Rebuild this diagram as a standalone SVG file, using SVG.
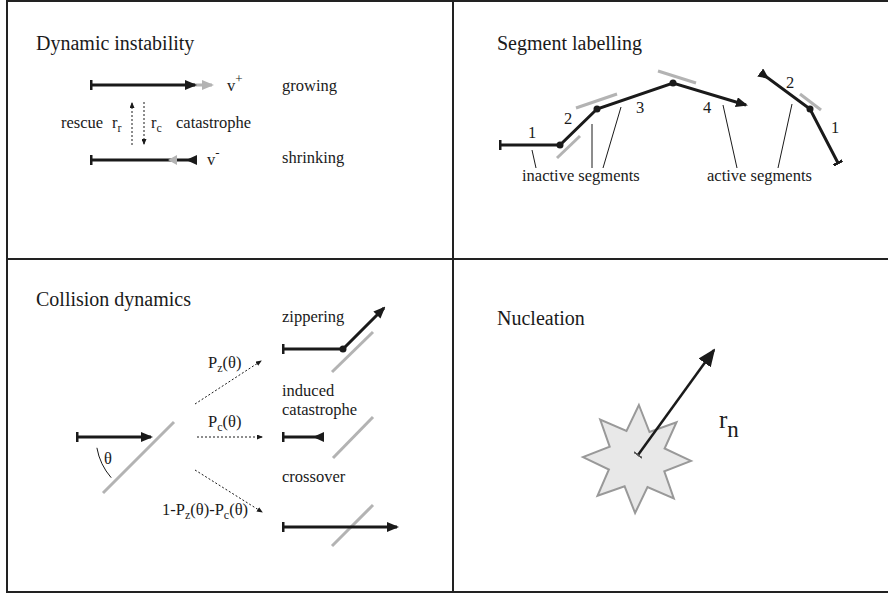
<svg xmlns="http://www.w3.org/2000/svg" width="888" height="597" viewBox="0 0 888 597">
<style>
text{font-family:"Liberation Serif","Times New Roman",serif;fill:#1a1a1a}
.t{font-size:20px}
.l{font-size:16.5px}
.s{font-size:12px}
.blk{stroke:#1a1a1a;stroke-width:3;fill:none}
.gry{stroke:#b3b3b3;stroke-width:3;fill:none}
.dot{stroke:#1a1a1a;stroke-width:1;stroke-dasharray:2,2;fill:none}
.thin{stroke:#1a1a1a;stroke-width:1;fill:none}
.frame{stroke:#222;stroke-width:2;fill:none}
</style>
<defs>
<marker id="ah" viewBox="0 0 12 10" refX="10" refY="5" markerWidth="12" markerHeight="10" markerUnits="userSpaceOnUse" orient="auto"><path d="M0,0L12,5L0,10z" fill="#1a1a1a"/></marker>
<marker id="ahg" viewBox="0 0 12 10" refX="10" refY="5" markerWidth="12" markerHeight="10" markerUnits="userSpaceOnUse" orient="auto"><path d="M0,0L12,5L0,10z" fill="#b3b3b3"/></marker>
<marker id="rev" viewBox="0 0 11 10" refX="10" refY="5" markerWidth="11" markerHeight="10" markerUnits="userSpaceOnUse" orient="auto-start-reverse"><path d="M11,0L11,10L0,5z" fill="#1a1a1a"/></marker>
<marker id="tee" viewBox="0 0 3 10" refX="1.5" refY="5" markerWidth="3" markerHeight="10" markerUnits="userSpaceOnUse" orient="auto"><rect x="0" y="0" width="3" height="10" fill="#1a1a1a"/></marker>
<marker id="sm" viewBox="0 0 6 5" refX="5" refY="2.5" markerWidth="6" markerHeight="5" markerUnits="userSpaceOnUse" orient="auto"><path d="M0,0L6,2.5L0,5z" fill="#1a1a1a"/></marker>
<marker id="ahL" viewBox="0 0 18 15" refX="16" refY="7.5" markerWidth="18" markerHeight="15" markerUnits="userSpaceOnUse" orient="auto"><path d="M0,0L18,7.5L0,15z" fill="#1a1a1a"/></marker>
<marker id="teeS" viewBox="0 0 2 10" refX="1" refY="5" markerWidth="2" markerHeight="10" markerUnits="userSpaceOnUse" orient="auto"><rect x="0" y="0" width="2" height="10" fill="#555"/></marker>
</defs>

<g id="frame">
<rect class="frame" x="7" y="1" width="890" height="591"/>
<line class="frame" x1="7" y1="259" x2="888" y2="259"/>
<line class="frame" x1="453" y1="1" x2="453" y2="592"/>
</g>

<g id="panel-dynamic-instability">
<text class="t" x="36" y="50">Dynamic instability</text>
<line class="gry" x1="190" y1="85" x2="212" y2="85" marker-end="url(#ahg)"/>
<line class="blk" x1="91" y1="85" x2="195" y2="85" marker-start="url(#tee)" marker-end="url(#ah)"/>
<text class="l" x="227" y="91">v<tspan font-size="13" dy="-8">+</tspan></text>
<text class="l" x="282" y="91">growing</text>
<text class="l" x="61" y="128">rescue</text>
<text class="l" x="112" y="128">r<tspan class="s" dy="4">r</tspan></text>
<text class="l" x="151" y="128">r<tspan class="s" dy="4">c</tspan></text>
<text class="l" x="176" y="128">catastrophe</text>
<line class="blk" x1="91" y1="160" x2="196" y2="160" marker-start="url(#tee)" marker-end="url(#rev)"/>
<path d="M177,155L177,165L168,160z" fill="#b3b3b3"/>
<text class="l" x="207" y="165">v<tspan font-size="13" dy="-8">-</tspan></text>
<text class="l" x="282" y="163">shrinking</text>
</g>

<g id="panel-segment-labelling">
<text class="t" x="497" y="50">Segment labelling</text>
<line class="gry" x1="557" y1="158" x2="580" y2="136"/>
<line class="gry" x1="576" y1="108" x2="617" y2="94"/>
<line class="gry" x1="658" y1="71" x2="696" y2="83"/>
<line class="gry" x1="800" y1="94" x2="821" y2="110"/>
<polyline class="blk" points="500,145 560,145 597,109 673,83 746,105" marker-start="url(#tee)" marker-end="url(#ah)"/>
<circle cx="560" cy="145" r="3.5" fill="#1a1a1a"/>
<circle cx="597" cy="109" r="3.5" fill="#1a1a1a"/>
<circle cx="673" cy="83" r="3.5" fill="#1a1a1a"/>
<polyline class="blk" points="761,73 810,109 838,163" marker-start="url(#rev)" marker-end="url(#tee)"/>
<circle cx="810" cy="109" r="3.5" fill="#1a1a1a"/>
<text class="l" x="528" y="138">1</text>
<text class="l" x="564" y="124">2</text>
<text class="l" x="636" y="113">3</text>
<text class="l" x="703" y="113">4</text>
<text class="l" x="786" y="88">2</text>
<text class="l" x="831" y="133">1</text>
<line class="thin" x1="532" y1="150" x2="536" y2="168"/>
<line class="thin" x1="592" y1="124" x2="592" y2="168"/>
<line class="thin" x1="621" y1="107" x2="603" y2="168"/>
<line class="thin" x1="723" y1="105" x2="737" y2="168"/>
<line class="thin" x1="792" y1="104" x2="778" y2="168"/>
<text class="l" x="522" y="181">inactive segments</text>
<text class="l" x="707" y="181">active segments</text>
</g>

<g id="panel-collision-dynamics">
<text class="t" x="36" y="306">Collision dynamics</text>
<line class="gry" x1="103" y1="493" x2="174" y2="422"/>
<line class="blk" x1="77" y1="437" x2="151" y2="437" marker-start="url(#tee)" marker-end="url(#ah)"/>
<path class="thin" d="M96.9,447.8A62,62 0 0 0 111.2,477.7"/>
<text class="l" x="104" y="464">θ</text>
<text class="l" x="208" y="368">P<tspan class="s" dy="4">z</tspan><tspan dy="-4">(θ)</tspan></text>
<text class="l" x="208" y="427">P<tspan class="s" dy="4">c</tspan><tspan dy="-4">(θ)</tspan></text>
<text class="l" x="162" y="515">1-P<tspan class="s" dy="4">z</tspan><tspan dy="-4">(θ)-P</tspan><tspan class="s" dy="4">c</tspan><tspan dy="-4">(θ)</tspan></text>
<text class="l" x="282" y="322">zippering</text>
<line class="gry" x1="332" y1="372" x2="373" y2="332"/>
<polyline class="blk" points="283,349 343,349 384,308" marker-start="url(#tee)" marker-end="url(#ah)"/>
<circle cx="343" cy="349" r="3.5" fill="#1a1a1a"/>
<text class="l" x="282" y="396">induced</text>
<text class="l" x="282" y="415">catastrophe</text>
<line class="gry" x1="333" y1="458" x2="373" y2="417"/>
<line class="blk" x1="283" y1="437" x2="323" y2="437" marker-start="url(#tee)" marker-end="url(#rev)"/>
<text class="l" x="282" y="482">crossover</text>
<line class="gry" x1="332" y1="546" x2="373" y2="505"/>
<line class="blk" x1="283" y1="527" x2="397" y2="527" marker-start="url(#tee)" marker-end="url(#ah)"/>
</g>

<g id="connectors">
<line class="dot" x1="132" y1="145" x2="132" y2="103" marker-end="url(#sm)"/>
<line class="dot" x1="144" y1="102" x2="144" y2="144" marker-end="url(#sm)"/>
<line class="dot" x1="195" y1="404" x2="261" y2="361" marker-end="url(#sm)"/>
<line class="dot" x1="197" y1="437" x2="262" y2="437" marker-end="url(#sm)"/>
<line class="dot" x1="195" y1="470" x2="262" y2="512" marker-end="url(#sm)"/>
</g>

<g id="panel-nucleation">
<text class="t" x="497" y="325">Nucleation</text>
<polygon points="638.9,405 649.5,432 676.5,422.2 664.6,448.5 691,460.9 664.3,471.4 673.8,498.5 647.5,487.1 635.1,513 624.6,486.3 597.5,495.8 608.9,469.5 583,457.1 609.7,446.6 600.2,419.5 626.5,430.9" fill="#e8e8e8" stroke="#999" stroke-width="2"/>
<line x1="638" y1="455" x2="714" y2="350" stroke="#1a1a1a" stroke-width="2.5" marker-start="url(#teeS)" marker-end="url(#ahL)"/>
<text x="719" y="428" font-size="25">r<tspan font-size="23" dy="9">n</tspan></text>
</g>
</svg>
